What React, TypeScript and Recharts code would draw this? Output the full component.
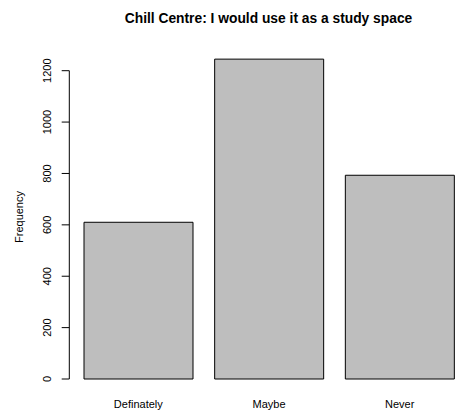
import { BarChart, Bar, XAxis, YAxis } from "recharts";

const categories = ["Definately", "Maybe", "Never"];
const frequencies = [610, 1245, 793];
const yTicks = [0, 200, 400, 600, 800, 1000, 1200];

const chartTitle = "Chill Centre: I would use it as a study space";
const yLabel = "Frequency";

const data = categories.map((name, i) => ({ name, value: frequencies[i] }));

const FONT = "'Liberation Sans', Arial, sans-serif";
const CHART_W = 465;
const CHART_H = 414;
const TOP = 45;
const X_AXIS_H = 35;
const Y_AXIS_W = 73;
const Y_MAX = 1300;
const PLOT_H = CHART_H - TOP - X_AXIS_H;
const PX_PER_UNIT = PLOT_H / Y_MAX;
const AXIS_X = 69.3;

const YTick = ({ y, payload }: any) => {
  const v = payload.value;
  const top = v === yTicks[yTicks.length - 1];
  return (
    <g>
      <line x1={61.7} x2={AXIS_X} y1={y} y2={y} stroke="#000" strokeWidth={1} />
      {top && (
        <line x1={AXIS_X} x2={AXIS_X} y1={y} y2={y + v * PX_PER_UNIT} stroke="#000" strokeWidth={1} />
      )}
      <text
        x={51}
        y={y}
        transform={`rotate(-90, 51, ${y})`}
        textAnchor="middle"
        fontFamily={FONT}
        fontSize={11}
        fill="#000"
      >
        {v}
      </text>
    </g>
  );
};

const XTick = ({ x, payload }: any) => (
  <text x={x} y={408} textAnchor="middle" fontFamily={FONT} fontSize={11} fill="#000">
    {payload.value}
  </text>
);

export default function App() {
  return (
    <div
      style={{
        position: "absolute",
        left: 0,
        top: 0,
        width: 455,
        height: 414,
        overflow: "hidden",
        background: "#fff",
      }}
    >
      <BarChart
        width={CHART_W}
        height={CHART_H}
        data={data}
        margin={{ top: TOP, right: 0, bottom: 0, left: 0 }}
      >
        <XAxis
          dataKey="name"
          height={X_AXIS_H}
          axisLine={false}
          tickLine={false}
          tick={<XTick />}
          interval={0}
        />
        <YAxis
          width={Y_AXIS_W}
          domain={[0, Y_MAX]}
          ticks={yTicks}
          axisLine={false}
          tickLine={false}
          tick={<YTick />}
          interval={0}
        />
        <Bar
          dataKey="value"
          fill="#BEBEBE"
          stroke="#000"
          strokeWidth={1}
          barSize={109}
          isAnimationActive={false}
        />
      </BarChart>
      <svg
        width={455}
        height={414}
        style={{ position: "absolute", left: 0, top: 0, pointerEvents: "none" }}
      >
        <text
          x={268.5}
          y={23}
          textAnchor="middle"
          fontFamily={FONT}
          fontSize={13.8}
          fontWeight="bold"
          fill="#000"
        >
          {chartTitle}
        </text>
        <text
          x={23}
          y={217}
          transform="rotate(-90, 23, 217)"
          textAnchor="middle"
          fontFamily={FONT}
          fontSize={11}
          fill="#000"
        >
          {yLabel}
        </text>
      </svg>
    </div>
  );
}
